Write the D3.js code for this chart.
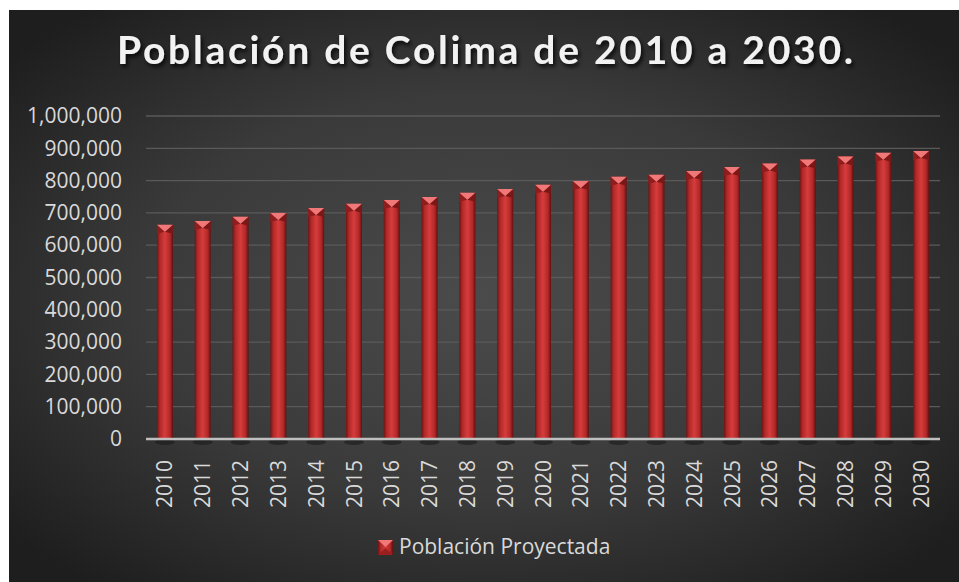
<!DOCTYPE html>
<html>
<head>
<meta charset="utf-8">
<script src="https://cdn.jsdelivr.net/npm/d3@7"></script>
<style>
  html, body { margin: 0; padding: 0; background: #ffffff; }
  svg { display: block; }
</style>
</head>
<body>
<svg id="chart"></svg>
<script>
const years = ["2010","2011","2012","2013","2014","2015","2016","2017","2018","2019","2020",
               "2021","2022","2023","2024","2025","2026","2027","2028","2029","2030"];
const poblacion = [663000, 675000, 688000, 700000, 715000, 728000, 740000, 749000, 762000, 774000, 787000,
                   799000, 812000, 818000, 830000, 842000, 853000, 865000, 875000, 886000, 892000];
const yTicks = [0, 100000, 200000, 300000, 400000, 500000, 600000, 700000, 800000, 900000, 1000000];
const titleText = "Población de Colima de 2010 a 2030.";
const seriesName = "Población Proyectada";

const width = 959, height = 582;
const svg = d3.select('#chart').attr('width', width).attr('height', height);
const defs = svg.append('defs');

// background gradient
const bg = defs.append('radialGradient').attr('id', 'bg')
  .attr('cx', '50%').attr('cy', '50%').attr('r', '65%');
bg.append('stop').attr('offset', '0%').attr('stop-color', '#4b4b4b');
bg.append('stop').attr('offset', '55%').attr('stop-color', '#3a3a3a');
bg.append('stop').attr('offset', '100%').attr('stop-color', '#1e1e1e');

// bar gradient, left to right
const bar = defs.append('linearGradient').attr('id', 'bar').attr('x1', 0).attr('x2', 1).attr('y1', 0).attr('y2', 0);
bar.append('stop').attr('offset', '0%').attr('stop-color', '#6e1414');
bar.append('stop').attr('offset', '18%').attr('stop-color', '#b02828');
bar.append('stop').attr('offset', '50%').attr('stop-color', '#d63c3c');
bar.append('stop').attr('offset', '82%').attr('stop-color', '#b02828');
bar.append('stop').attr('offset', '100%').attr('stop-color', '#5e1010');

const shadow = defs.append('filter').attr('id', 'tshadow').attr('x', '-5%').attr('y', '-20%').attr('width', '110%').attr('height', '150%');
shadow.append('feDropShadow').attr('dx', 2).attr('dy', 3).attr('stdDeviation', 2)
  .attr('flood-color', '#000').attr('flood-opacity', 0.8);

svg.append('rect').attr('x', 9).attr('y', 10).attr('width', width - 9).attr('height', height - 10)
  .attr('fill', 'url(#bg)');

const plot = { left: 146, right: 940, top: 116, bottom: 439 };

const x = d3.scaleBand().domain(years).range([plot.left, plot.right])
  .paddingInner(0.577).paddingOuter(0.2885);
const y = d3.scaleLinear().domain([0, 1000000]).range([plot.bottom, plot.top]);

// gridlines
svg.append('g').selectAll('line').data(yTicks.slice(1)).enter().append('line')
  .attr('x1', plot.left).attr('x2', plot.right)
  .attr('y1', d => y(d)).attr('y2', d => y(d))
  .attr('stroke', '#5a5a5a').attr('stroke-width', 1.3);

// y axis labels
const yAxis = svg.append('g').attr('transform', `translate(${plot.left},0)`)
  .call(d3.axisLeft(y).tickValues(yTicks).tickFormat(d3.format(',')).tickSize(0).tickPadding(24));
yAxis.select('.domain').remove();
yAxis.selectAll('text').attr('fill', '#d9d9d9')
  .style('font-family', '"Open Sans", sans-serif').style('font-size', '21px');

// bar shadows
svg.append('g').selectAll('ellipse').data(poblacion).enter().append('ellipse')
  .attr('cx', (d, i) => x(years[i]) + x.bandwidth() / 2)
  .attr('cy', plot.bottom + 3)
  .attr('rx', x.bandwidth() / 2 + 2).attr('ry', 3)
  .attr('fill', '#1a1a1a').attr('opacity', 0.6);

// bars
const capH = 7;
const bars = svg.append('g').selectAll('g').data(poblacion).enter().append('g');
bars.append('rect')
  .attr('x', (d, i) => x(years[i]))
  .attr('y', d => y(d))
  .attr('width', x.bandwidth())
  .attr('height', d => plot.bottom - y(d))
  .attr('fill', 'url(#bar)');
// bevel top: side facets and the lighter downward triangle
bars.append('path')
  .attr('d', (d, i) => {
    const x0 = x(years[i]), x1 = x0 + x.bandwidth(), cx = (x0 + x1) / 2, t = y(d);
    return `M${x0},${t}L${cx},${t + capH}L${x0},${t + capH + 2}Z`;
  })
  .attr('fill', '#8e1e1e');
bars.append('path')
  .attr('d', (d, i) => {
    const x0 = x(years[i]), x1 = x0 + x.bandwidth(), cx = (x0 + x1) / 2, t = y(d);
    return `M${x1},${t}L${cx},${t + capH}L${x1},${t + capH + 2}Z`;
  })
  .attr('fill', '#7a1818');
bars.append('path')
  .attr('d', (d, i) => {
    const x0 = x(years[i]), x1 = x0 + x.bandwidth(), cx = (x0 + x1) / 2, t = y(d);
    return `M${x0},${t}L${x1},${t}L${cx},${t + capH}Z`;
  })
  .attr('fill', '#f07878');

// category axis line
svg.append('line').attr('x1', plot.left).attr('x2', plot.right)
  .attr('y1', plot.bottom).attr('y2', plot.bottom)
  .attr('stroke', '#bfbfbf').attr('stroke-width', 2.5);

// x labels
const xAxis = svg.append('g').attr('transform', `translate(0,${plot.bottom})`)
  .call(d3.axisBottom(x).tickSize(0));
xAxis.select('.domain').remove();
xAxis.selectAll('text')
  .attr('transform', 'rotate(-90)')
  .attr('text-anchor', 'end')
  .attr('x', -21).attr('y', 0).attr('dy', '0.36em')
  .attr('fill', '#d9d9d9')
  .style('font-family', '"Open Sans", sans-serif').style('font-size', '21px');

// title
svg.append('text')
  .attr('x', 117).attr('y', 64)
  .attr('textLength', 736).attr('lengthAdjust', 'spacing')
  .attr('fill', '#f2f2f2').attr('filter', 'url(#tshadow)')
  .style('font-family', 'Lato, "Open Sans", sans-serif').style('font-weight', 'bold').style('font-size', '39px')
  .text(titleText);

// legend
const lg = svg.append('g').attr('transform', 'translate(378,540)');
lg.append('rect').attr('width', 15).attr('height', 15).attr('fill', 'url(#bar)');
lg.append('path').attr('d', 'M0,0L15,0L7.5,7Z').attr('fill', '#f07878');
lg.append('path').attr('d', 'M0,15L7.5,8L15,15Z').attr('fill', '#9a2020');
lg.append('text').attr('x', 21).attr('y', 14)
  .attr('fill', '#d9d9d9')
  .style('font-family', '"Open Sans", sans-serif').style('font-size', '21px')
  .text(seriesName);
</script>
</body>
</html>
